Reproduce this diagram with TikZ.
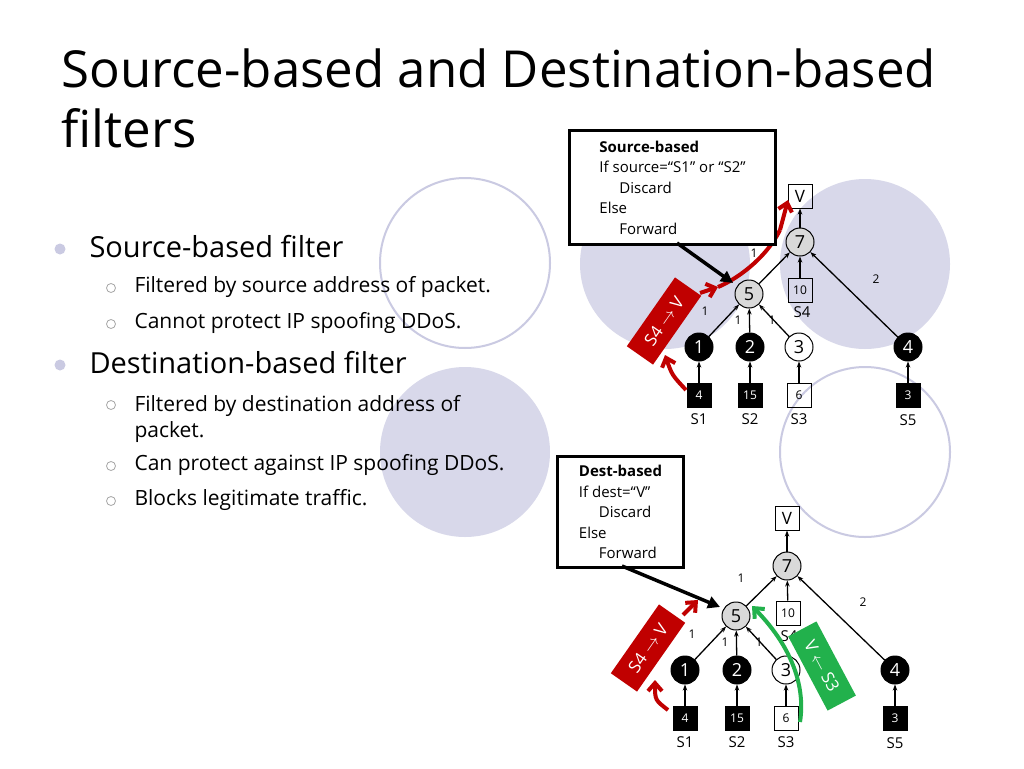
\documentclass[tikz,border=0pt]{standalone}
\usepackage{fontspec}
\setmainfont{Open Sans}
\usetikzlibrary{arrows.meta}
\definecolor{lav}{HTML}{D8D8EA}
\definecolor{lavl}{HTML}{CACAE2}
\definecolor{redb}{HTML}{C00000}
\definecolor{grn}{HTML}{22B14C}
\definecolor{ndg}{HTML}{D9D9D9}
\newcommand{\ra}{$\rightarrow$}
\newcommand{\la}{$\leftarrow$}
\begin{document}
\begin{tikzpicture}[x=1pt,y=-1pt,
 fz/.style={font=\fontsize{#1}{#1}\selectfont},
 rn/.style={circle,draw,line width=1pt,minimum size=28pt,inner sep=0pt,fz=18},
 gn/.style={rn,fill=ndg},
 bn/.style={rn,fill=black,text=white},
 wn/.style={rn,fill=white},
 bx/.style={draw,line width=1pt,minimum size=24pt,inner sep=0pt,fz=12},
 bbx/.style={bx,fill=black,text=white},
 ed/.style={-{Stealth[length=6pt]},line width=1.3pt},
 el/.style={fz=12},
 lab/.style={fz=15},
 call/.style={draw,line width=3pt,fill=white,align=left,inner sep=8pt,font=\fontsize{15}{20.5}\selectfont},
 pt/.style={line width=4pt,-{Straight Barb[length=8pt,width=14pt]}},
 tag/.style={text=white,minimum width=84pt,minimum height=32pt,fz=17},
]
\useasboundingbox (0,0) rectangle (1024,768);
\fill[white] (0,0) rectangle (1024,768);
% background circles
\fill[lav] (665,264) circle (85);
\fill[lav] (865,264) circle (85);
\fill[lav] (465,452) circle (85);
\draw[lavl,line width=2pt] (465,263) circle (85);
\draw[lavl,line width=2pt] (865,452) circle (85);
% title
\node[anchor=west,fz=51] (t1) at (58,68) {Source-based and Destination-based};
\node[anchor=west,fz=51] (t2) at (58,128) {filters};
% bullets
\fill[lavl] (60,249) circle (5.5);
\fill[lavl] (60,365) circle (5.5);
\node[anchor=west,fz=29] (b1) at (86,247) {Source-based filter};
\node[anchor=west,fz=29] (b2) at (86,363) {Destination-based filter};
\foreach \yy in {288,324,405,466,501} \draw[gray!70,line width=0.8pt] (111,\yy) circle (4.5);
\node[anchor=west,fz=21] (s1) at (131,287) {Filtered by source address of packet.};
\node[anchor=west,fz=21] (s2) at (131,323) {Cannot protect IP spoofing DDoS.};
\node[anchor=north west,fz=21,align=left] (s3) at (131,392) {Filtered by destination address of\\[5pt]packet.};
\node[anchor=west,fz=21] (s4) at (131,465) {Can protect against IP spoofing DDoS.};
\node[anchor=west,fz=21] (s5) at (131,500) {Blocks legitimate traffic.};

% ===== top tree =====
\node[bx,fz=17] (V) at (800,196) {V};
\node[gn] (n7) at (800,242) {7};
\node[gn] (n5) at (749,294) {5};
\node[bx] (b10) at (800,290) {10};
\node[lab] (l4) at (802,312) {S4};
\node[bn] (n1) at (699,347) {1};
\node[bn] (n2) at (750,347) {2};
\node[wn] (n3) at (799,347) {3};
\node[bn] (n4) at (908,347) {4};
\node[bbx] (bs1) at (699,395) {4};
\node[bbx] (bs2) at (750,395) {15};
\node[bx] (bs3) at (799,395) {6};
\node[bbx] (bs5) at (908,395) {3};
\node[lab] (ls1) at (699,419) {S1};
\node[lab] (ls2) at (750,419) {S2};
\node[lab] (ls3) at (799,419) {S3};
\node[lab] (ls5) at (908,420) {S5};
\draw[ed] (n7)--(V); \draw[ed] (b10)--(n7); \draw[ed] (n5)--(n7); \draw[ed] (n4)--(n7);
\draw[ed] (n1)--(n5); \draw[ed] (n2)--(n5); \draw[ed] (n3)--(n5);
\draw[ed] (bs1)--(n1); \draw[ed] (bs2)--(n2); \draw[ed] (bs3)--(n3); \draw[ed] (bs5)--(n4);
\node[el] at (754,253) {1}; \node[el] at (876,279) {2};
\node[el] at (705,311) {1}; \node[el] at (738,320) {1}; \node[el] at (772,320) {1};
\coordinate (r1a) at (686,390); \coordinate (r1b) at (665,355);
\coordinate (r2a) at (700,293); \coordinate (r2b) at (718,287);
\coordinate (r3a) at (780,230); \coordinate (r3b) at (788,200);
\draw[redb,pt] (r1a) .. controls (672,375) .. (r1b);
\draw[redb,pt] (r2a) -- (r2b);
\draw[redb,line width=4pt] (r2b) .. controls (735,280) and (765,260) .. (r3a);
\draw[redb,pt] (r3a) -- (r3b);
\node[call,anchor=north west,minimum width=206pt,minimum height=114pt] (c1) at (568,129) {\textbf{Source-based}\\If source=“S1” or “S2”\\\hspace{20pt}Discard\\Else\\\hspace{20pt}Forward};
\coordinate (c1p) at (677,243);
\draw[line width=3.5pt,-{Triangle[length=12pt,width=12pt]}] (c1p) -- (733,283);
\node[tag,fill=redb,rotate=55] (rl1) at (664,321) {S4 \ra{} V};

% ===== bottom tree =====
\node[bx,fz=17] (V') at (787,518) {V};
\node[gn] (m7) at (787,566) {7};
\node[gn] (m5) at (736,616) {5};
\node[bx] (c10) at (788,613) {10};
\node[lab] (k4) at (789,636) {S4};
\node[bn] (m1) at (685,670) {1};
\node[bn] (m2) at (737,670) {2};
\node[wn] (m3) at (786,670) {3};
\node[bn] (m4) at (895,670) {4};
\node[bbx] (cs1) at (685,718) {4};
\node[bbx] (cs2) at (737,718) {15};
\node[bx] (cs3) at (786,718) {6};
\node[bbx] (cs5) at (895,718) {3};
\node[lab] (ks1) at (685,742) {S1};
\node[lab] (ks2) at (737,742) {S2};
\node[lab] (ks3) at (786,742) {S3};
\node[lab] (ks5) at (895,743) {S5};
\draw[ed] (m7)--(V'); \draw[ed] (c10)--(m7); \draw[ed] (m5)--(m7); \draw[ed] (m4)--(m7);
\draw[ed] (m1)--(m5); \draw[ed] (m2)--(m5); \draw[ed] (m3)--(m5);
\draw[ed] (cs1)--(m1); \draw[ed] (cs2)--(m2); \draw[ed] (cs3)--(m3); \draw[ed] (cs5)--(m4);
\node[el] at (741,578) {1}; \node[el] at (863,602) {2};
\node[el] at (692,634) {1}; \node[el] at (725,642) {1}; \node[el] at (759,642) {1};
\node[call,anchor=north west,minimum width=126pt,minimum height=111pt] (c2) at (556,455) {\textbf{Dest-based}\\If dest=“V”\\\hspace{20pt}Discard\\Else\\\hspace{20pt}Forward};
\coordinate (c2p) at (622,566);
\draw[line width=3.5pt,-{Triangle[length=12pt,width=12pt]}] (c2p) -- (720,607);
\coordinate (g1) at (800,722); \coordinate (g2) at (752,606);
\draw[grn,pt] (g1) .. controls (805,690) and (795,650) .. (g2);
\node[tag,fill=grn,rotate=-62] (gl) at (822,666) {V \la{} S3};
\coordinate (q1a) at (668,710); \coordinate (q1b) at (655,680);
\coordinate (q2a) at (683,615); \coordinate (q2b) at (698,600);
\draw[redb,pt] (q1a) .. controls (655,700) .. (q1b);
\draw[redb,pt] (q2a) -- (q2b);
\node[tag,fill=redb,rotate=55] (rl2) at (648,648) {S4 \ra{} V};
\end{tikzpicture}
\end{document}
